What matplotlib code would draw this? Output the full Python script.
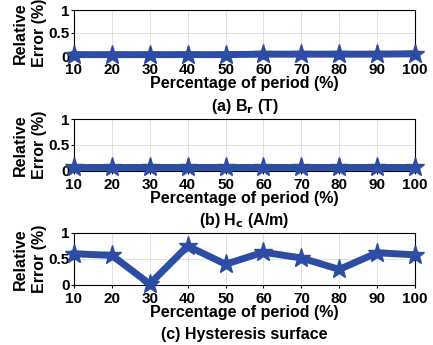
import numpy as np
import matplotlib.pyplot as plt

plt.rcParams['font.family'] = ['Liberation Sans', 'DejaVu Sans']
plt.rcParams['font.weight'] = 'bold'

# data
period = [10, 20, 30, 40, 50, 60, 70, 80, 90, 100]
err_br = [0.03, 0.03, 0.03, 0.03, 0.03, 0.04, 0.04, 0.04, 0.04, 0.05]
err_hc = [0.08, 0.08, 0.08, 0.08, 0.08, 0.08, 0.08, 0.08, 0.08, 0.08]
err_surf = [0.6, 0.57, 0.02, 0.75, 0.4, 0.63, 0.52, 0.3, 0.62, 0.58]
titles = ['(a) B$_\\mathbf{r}$ (T)', '(b) H$_\\mathbf{c}$ (A/m)', '(c) Hysteresis surface']
series = [err_br, err_hc, err_surf]

W, H = 433, 345
fig = plt.figure(figsize=(W / 100, H / 100), dpi=100)

# axes boxes in pixels: (top, bottom)
boxes = [(10, 56), (119, 171), (233, 285)]
left, right = 74, 415
color = '#2C4DA3'

for (top, bot), vals, title in zip(boxes, series, titles):
    ax = fig.add_axes([left / W, 1 - bot / H, (right - left) / W, (bot - top) / H])
    ax.plot(period, vals, color=color, lw=5, marker='*', ms=14,
            markerfacecolor=color, markeredgecolor=color, clip_on=False, zorder=3)
    ax.set_xlim(10, 100)
    ax.set_ylim(0, 1)
    ax.set_xticks(period)
    ax.set_yticks([0, 0.5, 1])
    ax.set_yticklabels(['0', '0.5', '1'])
    ax.grid(True, color='#dcdcdc', lw=0.6)
    ax.tick_params(labelsize=11, length=2)
    ax.tick_params(axis='x', pad=3)
    ax.tick_params(axis='y', pad=1)
    for lab in ax.get_xticklabels() + ax.get_yticklabels():
        lab.set_fontweight('bold')
    ax.set_xlabel('Percentage of period (%)', fontsize=11.5, fontweight='bold', labelpad=-1)
    ax.set_ylabel('Relative\nError (%)', fontsize=11.5, fontweight='bold', labelpad=1,
                  linespacing=1.4)
    ax.annotate(title, xy=(0.5, 0), xycoords='axes fraction', xytext=(0, -36),
                textcoords='offset points', ha='center', va='center',
                fontsize=11.5, fontweight='bold')

fig.savefig('out.png', dpi=100)
